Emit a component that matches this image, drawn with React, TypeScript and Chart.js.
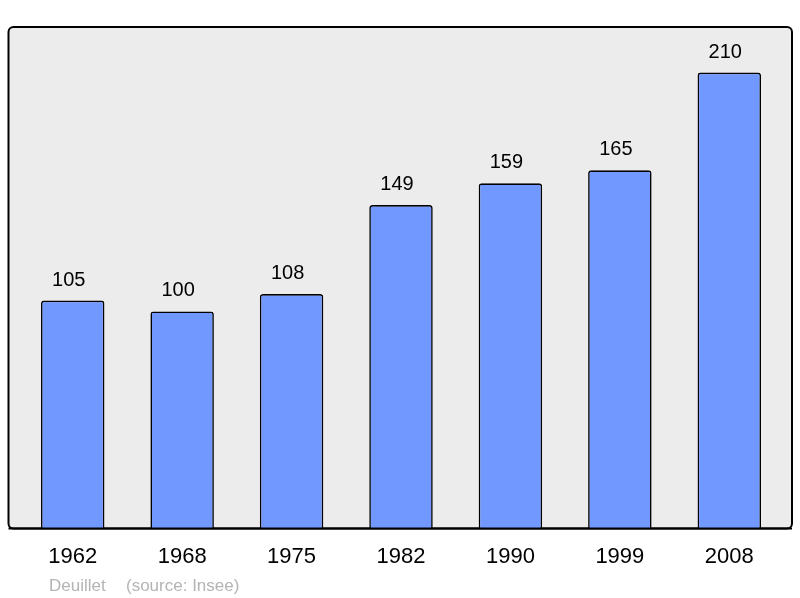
import { useEffect, useRef } from "react";
import { Chart, registerables } from "chart.js";

Chart.register(...registerables);

const years = ["1962", "1968", "1975", "1982", "1990", "1999", "2008"];
const population = [105, 100, 108, 149, 159, 165, 210];
const footerName = "Deuillet";
const footerSource = "(source: Insee)";

// grey panel with rounded black frame, a bit wider than the chart area
const framePlugin = {
  id: "frame",
  beforeDraw(chart: any) {
    const { ctx, chartArea } = chart;
    const x = 8.5;
    const y = chartArea.top;
    const w = 792 - x;
    const h = chartArea.bottom - y;
    ctx.save();
    ctx.beginPath();
    ctx.roundRect(x, y, w, h, 5);
    ctx.fillStyle = "#ececec";
    ctx.fill();
    ctx.lineWidth = 2;
    ctx.strokeStyle = "#000";
    ctx.stroke();
    ctx.restore();
  },
  afterDatasetsDraw(chart: any) {
    const { ctx, chartArea } = chart;
    ctx.save();
    ctx.beginPath();
    ctx.moveTo(8.5, chartArea.bottom);
    ctx.lineTo(792, chartArea.bottom);
    ctx.lineWidth = 2;
    ctx.strokeStyle = "#000";
    ctx.stroke();
    ctx.restore();
  },
};

const valueLabels = {
  id: "valueLabels",
  afterDatasetsDraw(chart: any) {
    const { ctx } = chart;
    const meta = chart.getDatasetMeta(0);
    ctx.save();
    ctx.font = "20px 'Liberation Sans', Arial, sans-serif";
    ctx.fillStyle = "#000";
    ctx.textAlign = "center";
    ctx.textBaseline = "alphabetic";
    meta.data.forEach((bar: any, i: number) => {
      ctx.fillText(String(population[i]), bar.x - 4, bar.y - 15);
    });
    ctx.restore();
  },
};

const footer = {
  id: "footer",
  afterDraw(chart: any) {
    const { ctx } = chart;
    ctx.save();
    ctx.font = "17px 'Liberation Sans', Arial, sans-serif";
    ctx.fillStyle = "#b4b4b4";
    ctx.textBaseline = "alphabetic";
    ctx.fillText(footerName, 49, 591);
    ctx.fillText(footerSource, 126, 591);
    ctx.restore();
  },
};

export default function App() {
  const canvasRef = useRef<HTMLCanvasElement | null>(null);
  const chartRef = useRef<Chart | null>(null);

  useEffect(() => {
    const ctx = canvasRef.current?.getContext("2d");
    if (!ctx) return;
    chartRef.current = new Chart(ctx, {
      type: "bar",
      data: {
        labels: years,
        datasets: [
          {
            data: population,
            backgroundColor: "#7098ff",
            borderColor: "#000",
            borderWidth: 1.6,
            borderRadius: { topLeft: 3, topRight: 3, bottomLeft: 0, bottomRight: 0 },
            borderSkipped: "bottom",
            barPercentage: 0.58,
            categoryPercentage: 1,
          },
        ],
      },
      options: {
        animation: false,
        responsive: false,
        layout: { padding: { left: 18, right: 16, top: 27, bottom: 13 } },
        plugins: {
          legend: { display: false },
          tooltip: { enabled: false },
        },
        scales: {
          x: {
            grid: { display: false, drawTicks: false },
            border: { display: false },
            ticks: {
              color: "#000",
              padding: 15,
              font: { family: "'Liberation Sans', Arial, sans-serif", size: 22 },
            },
          },
          y: {
            display: false,
            min: 0,
            max: 231,
          },
        },
      },
      plugins: [framePlugin, valueLabels, footer],
    });
    return () => chartRef.current?.destroy();
  }, []);

  return (
    <div style={{ position: "fixed", left: 0, top: 0, width: 800, height: 598, background: "#fff" }}>
      <canvas ref={canvasRef} width={800} height={598} />
    </div>
  );
}
